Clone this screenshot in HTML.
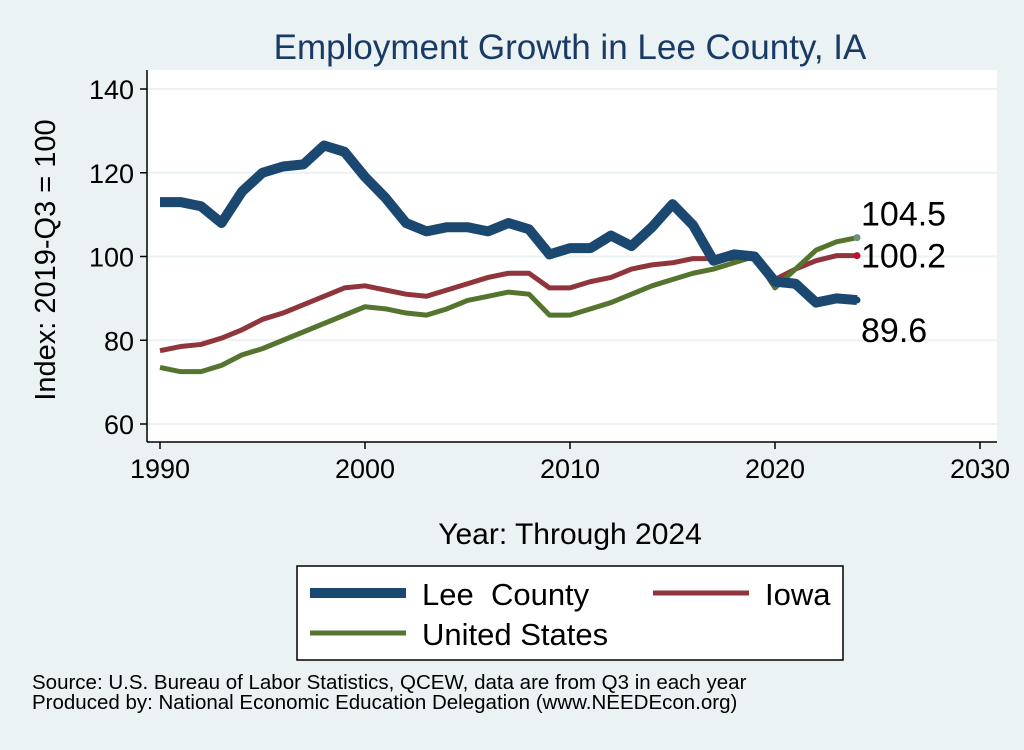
<!DOCTYPE html>
<html><head><meta charset="utf-8"><style>
body{margin:0;background:#eaf2f3;font-family:"Liberation Sans",sans-serif}
text{white-space:pre}
</style></head><body>
<svg id="c" width="1024" height="745" font-family="Liberation Sans, sans-serif">
<rect x="0" y="0" width="1024" height="745" fill="#eaf2f3"/>
<rect x="147" y="70" width="850" height="372" fill="#fff"/>
<text x="570" y="59" text-anchor="middle" font-size="35" fill="#1a3a66">Employment Growth in Lee County, IA</text>
<g id="grid"></g><g id="axes"></g><g id="series"></g>
<text transform="translate(55,260) rotate(-90)" text-anchor="middle" font-size="29">Index: 2019-Q3 = 100</text>
<text x="570" y="544" text-anchor="middle" font-size="30">Year: Through 2024</text>
<g>
<rect x="297" y="566" width="546" height="94" fill="#fff" stroke="#000" stroke-width="1.5"/>
<line x1="310" y1="593" x2="406" y2="593" stroke="#1a4871" stroke-width="10"/>
<text x="422" y="605" font-size="31">Lee  County</text>
<line x1="653" y1="593" x2="749" y2="593" stroke="#90353b" stroke-width="5"/>
<text x="765" y="605" font-size="31">Iowa</text>
<line x1="310" y1="633" x2="406" y2="633" stroke="#55752f" stroke-width="5"/>
<text x="422" y="645" font-size="31">United States</text>
</g>
<text x="32" y="689" font-size="20.5">Source: U.S. Bureau of Labor Statistics, QCEW, data are from Q3 in each year</text>
<text x="32" y="709" font-size="20.5">Produced by: National Economic Education Delegation (www.NEEDEcon.org)</text>
</svg>
<script>
const years=[1990,1991,1992,1993,1994,1995,1996,1997,1998,1999,2000,2001,2002,2003,2004,2005,2006,2007,2008,2009,2010,2011,2012,2013,2014,2015,2016,2017,2018,2019,2020,2021,2022,2023,2024];
const lee=[113,113,112,108,115.5,120,121.5,122,126.5,125,119,114,108,106,107,107,106,108,106.5,100.5,102,102,105,102.5,107,112.5,107.5,99,100.5,100,94,93.5,89,90,89.6];
const iowa=[77.5,78.5,79,80.5,82.5,85,86.5,88.5,90.5,92.5,93,92,91,90.5,92,93.5,95,96,96,92.5,92.5,94,95,97,98,98.5,99.5,99.5,99.5,100,94.5,97,99,100.2,100.2];
const us=[73.5,72.5,72.5,74,76.5,78,80,82,84,86,88,87.5,86.5,86,87.5,89.5,90.5,91.5,91,86,86,87.5,89,91,93,94.5,96,97,98.5,100,92.5,97,101.5,103.5,104.5];
const yTicks=[60,80,100,120,140];
const xTicks=[1990,2000,2010,2020,2030];
const endLabels=["104.5","100.2","89.6"];
const X=v=>160+(v-1990)*20.5;
const Y=v=>424-(v-60)*4.1875;
const NS="http://www.w3.org/2000/svg";
function mk(t,a,p){const e=document.createElementNS(NS,t);for(const k in a)e.setAttribute(k,a[k]);p.appendChild(e);return e;}
const grid=document.getElementById('grid'),axes=document.getElementById('axes'),ser=document.getElementById('series');
yTicks.forEach(v=>{
 const g=mk('line',{x1:147,x2:997,y1:Y(v),y2:Y(v),stroke:'#eaf2f3','stroke-width':2},grid);
 
 
 const t=mk('line',{x1:140,x2:147,y1:Y(v),y2:Y(v),stroke:'#000','stroke-width':1.5},axes);
 
 
 const l=mk('text',{x:134,y:Y(v)+10,'text-anchor':'end','font-size':27},axes);l.textContent=v;
 
 
});
xTicks.forEach(v=>{
 const t=mk('line',{x1:X(v),x2:X(v),y1:442,y2:449,stroke:'#000','stroke-width':1.5},axes);
 
 
 const l=mk('text',{x:X(v),y:478,'text-anchor':'middle','font-size':27},axes);l.textContent=v;
 
 
});
const ya=mk('line',{x1:147,x2:147,y1:70,y2:442,stroke:'#000','stroke-width':1.5},axes);


const xa=mk('line',{x1:147,x2:997,y1:442,y2:442,stroke:'#000','stroke-width':1.5},axes);


function line(arr,color,w,name){
 const p=mk('polyline',{points:arr.map((v,i)=>X(years[i])+','+Y(v)).join(' '),fill:'none',stroke:color,'stroke-width':w,'stroke-linejoin':'round'},ser);
 
 
}
line(iowa,'#90353b',5,'iowa-line');
line(us,'#55752f',5,'us-line');
line(lee,'#1a4871',10,'lee-county-line');
const n=years.length-1,lx=X(years[n]);
[[us,'#6f8f80',endLabels[0],-12],[iowa,'#c0102a',endLabels[1],12],[lee,'#1a4871',endLabels[2],42]].forEach(([a,c,s,dy])=>{
 const d=mk('circle',{cx:lx,cy:Y(a[n]),r:3.5,fill:c},ser);
 
 
 const t=mk('text',{x:lx+4,y:Y(a[n])+dy,'font-size':34},ser);t.textContent=s;
 
 
});
</script>
</body></html>
